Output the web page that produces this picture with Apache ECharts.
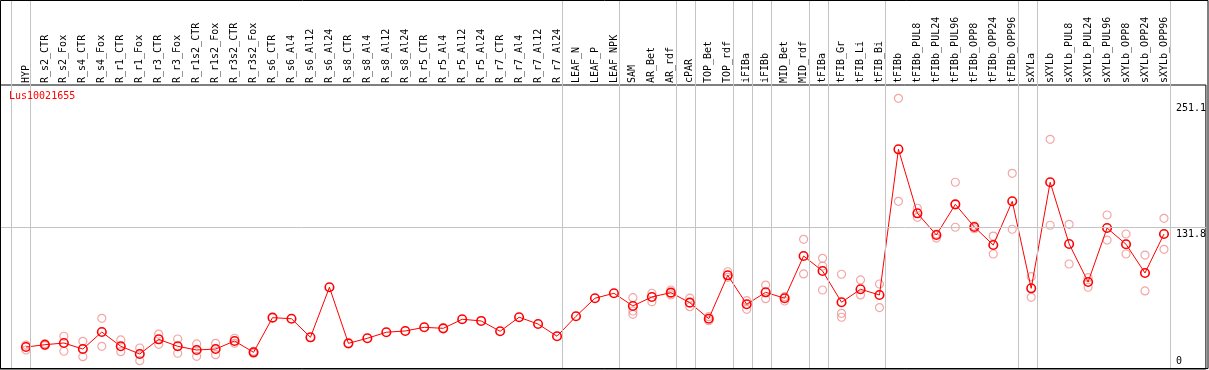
<!DOCTYPE html>
<html><head><meta charset="utf-8">
<script src="https://cdn.jsdelivr.net/npm/echarts@6/dist/echarts.min.js"></script>
<style>html,body{margin:0;padding:0;background:#fff}#c{width:1209px;height:370px}</style>
</head><body><div id="c"></div><script>
const categories = ["HYP","R_s2_CTR","R_s2_Fox","R_s4_CTR","R_s4_Fox","R_r1_CTR","R_r1_Fox","R_r3_CTR","R_r3_Fox","R_r1s2_CTR","R_r1s2_Fox","R_r3s2_CTR","R_r3s2_Fox","R_s6_CTR","R_s6_Al4","R_s6_Al12","R_s6_Al24","R_s8_CTR","R_s8_Al4","R_s8_Al12","R_s8_Al24","R_r5_CTR","R_r5_Al4","R_r5_Al12","R_r5_Al24","R_r7_CTR","R_r7_Al4","R_r7_Al12","R_r7_Al24","LEAF_N","LEAF_P","LEAF_NPK","SAM","AR_Bet","AR_rdf","cPAR","TOP_Bet","TOP_rdf","iFIBa","iFIBb","MID_Bet","MID_rdf","tFIBa","tFIB_Gr","tFIB_Li","tFIB_Bi","tFIBb","tFIBb_PUL8","tFIBb_PUL24","tFIBb_PUL96","tFIBb_OPP8","tFIBb_OPP24","tFIBb_OPP96","sXYLa","sXYLb","sXYLb_PUL8","sXYLb_PUL24","sXYLb_PUL96","sXYLb_OPP8","sXYLb_OPP24","sXYLb_OPP96"];
const means = [18.8,21.0,22.6,16.9,33.0,19.5,12.2,26.1,19.5,16.0,16.9,24.5,13.8,46.6,45.6,28.0,75.4,22.3,27.1,32.8,34.0,37.5,36.5,45.1,43.5,33.7,47.0,40.6,29.0,47.9,65.0,69.7,57.7,66.2,70.3,60.8,45.6,86.7,59.3,70.6,65.0,105.0,90.8,61.2,73.5,68.1,206.0,145.4,124.9,153.9,132.5,115.4,156.8,74.4,174.8,116.4,80.4,131.5,116.1,88.9,125.8];
const replicates = [
 [20.7,16.0],[22.0,20.1],[29.0,14.8],[24.2,9.7],[46.0,19.5],[25.5,14.4],[17.9,5.9],[31.1,21.4],[26.4,12.9],[21.7,10.0],[22.3,11.6],[27.1,22.3],[13.0,14.6],
 [],[],[],[],[],[],[],[],[],[],[],[],[],[],[],[],[],[],[],
 [65.5,52.9,49.8],[69.7,61.7],[72.8,68.1],[65.2,57.0],[47.5,43.7],[90.1,84.8],[62.7,54.5],[77.5,64.6],[66.5,62.4],[120.8,88.0],[102.8,95.5,72.8],[87.7,50.7,47.0],[82.3,68.1],[78.5,56.2],
 [254.3,156.8],[150.2,141.6],[125.8,122.0],[174.8,132.2],[133.4,130.8],[123.9,106.9],[183.3,130.3],
 [85.4,65.9],[215.5,134.1],[135.0,97.4],[84.5,75.4],[143.8,120.1],[125.8,106.9],[105.9,71.9],[140.7,111.3]
];
const groupSizes = [1,28,3,3,1,2,1,1,2,1,3,7,1,7];
const yTickLabels = [0, 131.8, 251.1];
const refLineValue = 131.8;
const geneName = "Lus10021655";

// layout (styling only)
const W = 1209, gridLeft = 0, gridRightEdge = 1208, firstCenter = 26, pitch = 19;
const xMin = (gridLeft - firstCenter) / pitch;
const xMax = (gridRightEdge - firstCenter) / pitch;
const yMin = -2, yMax = 266.9;
const sepOffset = 0.23;
const FONT = "'DejaVu Sans Mono', monospace";

const boundaries = [-1 + sepOffset];
let acc = -1;
groupSizes.forEach(s => { acc += s; boundaries.push(acc + sepOffset); });

const meanData = means.map((v, i) => [i, v]);
const repData = [];
replicates.forEach((arr, i) => arr.forEach(v => repData.push([i, v])));

const chart = echarts.init(document.getElementById('c'), null, {renderer: 'canvas'});
chart.setOption({
  animation: false,
  backgroundColor: '#fff',
  title: {text: geneName, left: 9, top: 91, padding: 0, textStyle: {color: '#ff0000', fontSize: 10, fontWeight: 'normal', fontFamily: FONT}},
  graphic: [{type: 'rect', shape: {x: 0.5, y: 0.5, width: 1207.5, height: 368}, style: {fill: 'none', stroke: '#000', lineWidth: 1}, z: 100, silent: true}],
  grid: [
    {left: gridLeft, right: W - gridRightEdge, top: 0, bottom: 1, show: false},
    {left: gridLeft, right: W - gridRightEdge, top: 85, bottom: 1, show: true, borderColor: '#000', borderWidth: 1, backgroundColor: 'transparent'}
  ],
  xAxis: [
    {gridIndex: 0, type: 'value', min: xMin, max: xMax, show: false},
    {gridIndex: 1, type: 'value', min: xMin, max: xMax, position: 'top',
     axisLine: {show: false}, axisTick: {show: false}, splitLine: {show: false},
     axisLabel: {customValues: categories.map((_, i) => i), formatter: v => categories[Math.round(v)] || '',
       rotate: 90, margin: 2, fontSize: 10, fontFamily: FONT, color: '#000'}}
  ],
  yAxis: [
    {gridIndex: 0, type: 'value', min: 0, max: 1, show: false},
    {gridIndex: 1, type: 'value', min: yMin, max: yMax, position: 'right',
     axisLine: {show: false}, axisTick: {show: false}, splitLine: {show: false},
     axisLabel: {inside: true, customValues: yTickLabels.slice(1), formatter: v => String(v), align: 'left', verticalAlign: 'top', padding: [2, 0, 0, 0], margin: 30, fontSize: 10, fontFamily: FONT, color: '#000'}},
    {gridIndex: 1, type: 'value', min: yMin, max: yMax, position: 'right',
     axisLine: {show: false}, axisTick: {show: false}, splitLine: {show: false},
     axisLabel: {inside: true, customValues: yTickLabels.slice(0, 1), formatter: v => String(v), align: 'left', verticalAlign: 'bottom', margin: 30, fontSize: 10, fontFamily: FONT, color: '#000'}}
  ],
  series: [
    {type: 'scatter', xAxisIndex: 0, yAxisIndex: 0, data: [], silent: true, z: 1,
     markLine: {silent: true, symbol: 'none', label: {show: false}, animation: false,
       lineStyle: {color: '#c4c4c4', width: 1, type: 'solid'},
       data: boundaries.map(b => ({xAxis: b}))}},
    {type: 'scatter', xAxisIndex: 1, yAxisIndex: 1, data: repData, symbol: 'circle', symbolSize: 8, z: 2,
     itemStyle: {color: 'rgba(0,0,0,0)', borderColor: '#f09090', borderWidth: 1.2}},
    {type: 'line', xAxisIndex: 1, yAxisIndex: 1, data: meanData, symbol: 'circle', symbolSize: 8.5, showAllSymbol: true, z: 3,
     itemStyle: {color: 'rgba(0,0,0,0)', borderColor: '#ff0000', borderWidth: 1.6},
     lineStyle: {color: '#ff0000', width: 1},
     markLine: {silent: true, symbol: 'none', label: {show: false}, animation: false,
       lineStyle: {color: '#c4c4c4', width: 1, type: 'solid'},
       data: [{yAxis: refLineValue}]}}
  ]
});
</script></body></html>
